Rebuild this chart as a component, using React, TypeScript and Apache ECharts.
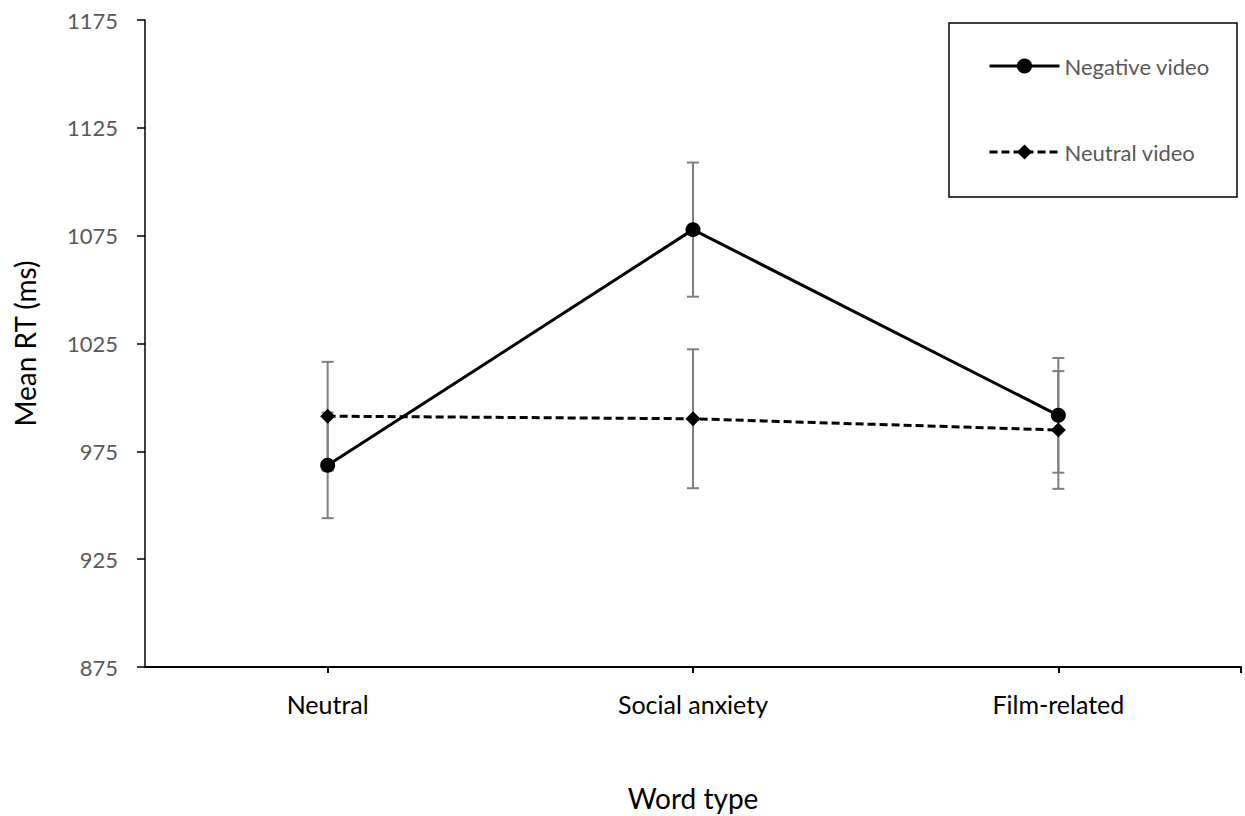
import React, { useEffect, useRef } from "react";
import * as echarts from "echarts";

const categories = ["Neutral", "Social anxiety", "Film-related"];
const negativeVideo = [968.5, 1077.8, 991.7];
const neutralVideo = [991.3, 990.1, 984.9];
const negativeErr = [24.5, 31.1, 26.6];
const neutralErr = [25.2, 32.2, 27.3];
const yMin = 875;
const yMax = 1175;
const yStep = 50;

const FONT = "Lato";

function errData(vals: number[], errs: number[]) {
  return vals.map((v, i) => [i, v - errs[i], v + errs[i]]);
}

function renderErr(params: any, api: any) {
  const x = api.value(0);
  const lo = api.value(1);
  const hi = api.value(2);
  const top = api.coord([x, hi]);
  const bot = api.coord([x, lo]);
  const hw = 6;
  const style = { stroke: "#7f7f7f", lineWidth: 2 };
  return {
    type: "group",
    children: [
      { type: "line", shape: { x1: top[0], y1: top[1], x2: bot[0], y2: bot[1] }, style },
      { type: "line", shape: { x1: top[0] - hw, y1: top[1], x2: top[0] + hw, y2: top[1] }, style },
      { type: "line", shape: { x1: bot[0] - hw, y1: bot[1], x2: bot[0] + hw, y2: bot[1] }, style },
    ],
  };
}

export default function App() {
  const ref = useRef<HTMLDivElement>(null);
  useEffect(() => {
    if (!ref.current) return;
    const chart = echarts.init(ref.current, null, { renderer: "svg" });
    chart.setOption({
      animation: false,
      backgroundColor: "#ffffff",
      grid: { left: 145, right: 4, top: 20, bottom: 149, containLabel: false, outerBoundsMode: "none" },
      xAxis: {
        type: "category",
        data: categories,
        boundaryGap: true,
        name: "Word type",
        nameLocation: "middle",
        nameGap: 117,
        nameTextStyle: { color: "#000", fontSize: 28, fontFamily: FONT },
        axisLine: { lineStyle: { color: "#000", width: 2 } },
        axisTick: { show: true, alignWithLabel: true, length: 6, lineStyle: { color: "#000", width: 2 } },
        axisLabel: { color: "#000", fontSize: 25, fontFamily: FONT, margin: 24 },
        splitLine: { show: false },
      },
      yAxis: {
        type: "value",
        min: yMin,
        max: yMax,
        interval: yStep,
        name: "Mean RT (ms)",
        nameLocation: "middle",
        nameGap: 106,
        nameTextStyle: { color: "#000", fontSize: 28, fontFamily: FONT },
        axisLine: { show: true, lineStyle: { color: "#000", width: 1.5 } },
        axisTick: { show: true, length: 8, lineStyle: { color: "#000", width: 1.5 } },
        axisLabel: {
          color: "#595959",
          fontSize: 22,
          fontFamily: FONT,
          margin: 27,
          formatter: (v: number) => String(v),
        },
        splitLine: { show: false },
      },
      legend: {
        orient: "vertical",
        left: 983,
        top: 49,
        itemWidth: 70,
        itemHeight: 19,
        itemGap: 62,
        lineStyle: { width: 3 },
        textStyle: { color: "#595959", fontSize: 22, fontFamily: FONT, lineHeight: 24 },
        data: ["Negative video", "Neutral video"],
      },
      graphic: [
        {
          type: "rect",
          shape: { x: 949, y: 23, width: 288, height: 174 },
          style: { fill: "none", stroke: "#000", lineWidth: 1.5 },
          z: 10,
        },
        {
          type: "line",
          shape: { x1: 1241, y1: 667, x2: 1241, y2: 673 },
          style: { stroke: "#000", lineWidth: 2 },
        },
      ],
      series: [
        {
          name: "errNeg",
          type: "custom",
          renderItem: renderErr,
          data: errData(negativeVideo, negativeErr),
          encode: { x: 0, y: [1, 2] },
          z: 1,
        },
        {
          name: "errNeu",
          type: "custom",
          renderItem: renderErr,
          data: errData(neutralVideo, neutralErr),
          encode: { x: 0, y: [1, 2] },
          z: 1,
        },
        {
          name: "Negative video",
          type: "line",
          data: negativeVideo,
          symbol: "circle",
          symbolSize: 15,
          itemStyle: { color: "#000" },
          lineStyle: { color: "#000", width: 3, type: "solid" },
          z: 5,
        },
        {
          name: "Neutral video",
          type: "line",
          data: neutralVideo,
          symbol: "diamond",
          symbolSize: 15,
          itemStyle: { color: "#000" },
          lineStyle: { color: "#000", width: 3, type: [8, 4] },
          z: 5,
        },
      ],
    });
    return () => chart.dispose();
  }, []);
  return (
    <div
      ref={ref}
      style={{ position: "fixed", left: 0, top: 0, width: 1245, height: 816 }}
    />
  );
}
